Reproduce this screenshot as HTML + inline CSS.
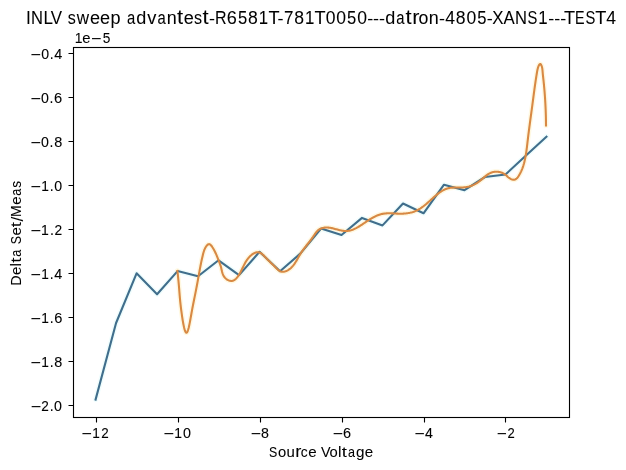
<!DOCTYPE html>
<html><head><meta charset="utf-8"><title>INLV sweep</title>
<style>
html,body{margin:0;padding:0;background:#ffffff;}
body{width:626px;height:470px;overflow:hidden;}
svg{display:block;}
text{font-family:"Liberation Sans",sans-serif;fill:#000000;}
</style></head><body>
<svg width="626" height="470" viewBox="0 0 626 470">
<rect x="0" y="0" width="626" height="470" fill="#ffffff"/>
<path d="M96.5 417.5V422.5M178.5 417.5V422.5M260.5 417.5V422.5M342.5 417.5V422.5M424.5 417.5V422.5M505.5 417.5V422.5M73.5 53.5H68.5M73.5 97.5H68.5M73.5 141.5H68.5M73.5 185.5H68.5M73.5 229.5H68.5M73.5 273.5H68.5M73.5 317.5H68.5M73.5 361.5H68.5M73.5 405.5H68.5" stroke="#000" stroke-width="1.11" fill="none"/>
<polyline points="95.58,399.60 116.07,323.00 136.57,273.30 157.06,294.30 177.56,271.10 198.05,276.30 218.55,260.30 239.05,275.10 259.54,251.80 280.04,271.20 300.53,253.40 321.03,228.60 341.53,235.00 362.02,217.90 382.52,225.40 403.01,203.50 423.51,213.30 444.01,184.70 464.50,190.20 485.00,177.00 505.49,174.50 525.99,155.50 546.48,136.60" fill="none" stroke="#effdfd" stroke-width="5" stroke-linejoin="round" stroke-linecap="round"/>
<path d="M177.40 270.80 L177.53 271.91 L177.65 272.99 L177.77 274.04 L177.88 275.06 L177.98 276.06 L178.08 277.02 L178.18 277.97 L178.27 278.89 L178.36 279.78 L178.44 280.65 L178.52 281.51 L178.60 282.34 L178.67 283.16 L178.74 283.95 L178.81 284.74 L178.88 285.50 L178.94 286.25 L179.00 286.99 L179.06 287.72 L179.12 288.44 L179.18 289.15 L179.23 289.85 L179.29 290.54 L179.34 291.23 L179.39 291.91 L179.45 292.59 L179.50 293.27 L179.56 293.95 L179.61 294.62 L179.67 295.30 L179.72 295.97 L179.78 296.66 L179.84 297.34 L179.90 298.03 L179.96 298.73 L180.03 299.43 L180.10 300.15 L180.17 300.87 L180.24 301.61 L180.32 302.35 L180.40 303.11 L180.48 303.89 L180.57 304.68 L180.66 305.49 L180.75 306.31 L180.86 307.16 L180.96 308.02 L181.07 308.91 L181.19 309.82 L181.31 310.75 L181.44 311.71 L181.57 312.69 L181.71 313.70 L181.85 314.73 L182.00 315.78 L182.16 316.84 L182.32 317.91 L182.49 318.98 L182.66 320.05 L182.84 321.11 L183.02 322.16 L183.21 323.19 L183.40 324.19 L183.59 325.17 L183.78 326.10 L183.98 327.00 L184.18 327.86 L184.39 328.66 L184.59 329.41 L184.80 330.09 L185.01 330.71 L185.22 331.26 L185.44 331.73 L185.65 332.11 L185.86 332.41 L186.08 332.62 L186.29 332.73 L186.51 332.74 L186.72 332.64 L186.94 332.44 L187.15 332.15 L187.36 331.78 L187.58 331.32 L187.79 330.78 L188.00 330.18 L188.21 329.50 L188.42 328.77 L188.63 327.98 L188.83 327.14 L189.04 326.25 L189.24 325.32 L189.44 324.36 L189.64 323.37 L189.84 322.35 L190.04 321.32 L190.23 320.27 L190.42 319.21 L190.61 318.16 L190.80 317.10 L190.99 316.05 L191.17 315.01 L191.35 313.99 L191.52 312.99 L191.70 312.03 L191.87 311.08 L192.04 310.16 L192.20 309.27 L192.37 308.39 L192.53 307.54 L192.69 306.70 L192.85 305.89 L193.00 305.08 L193.16 304.30 L193.31 303.52 L193.47 302.76 L193.62 302.00 L193.77 301.26 L193.92 300.52 L194.07 299.78 L194.22 299.05 L194.36 298.32 L194.51 297.59 L194.66 296.87 L194.81 296.13 L194.96 295.40 L195.11 294.66 L195.26 293.91 L195.41 293.16 L195.56 292.40 L195.71 291.62 L195.87 290.84 L196.02 290.04 L196.18 289.24 L196.33 288.43 L196.49 287.61 L196.65 286.79 L196.80 285.97 L196.96 285.14 L197.11 284.31 L197.27 283.49 L197.42 282.66 L197.57 281.83 L197.72 281.01 L197.87 280.19 L198.01 279.37 L198.16 278.56 L198.31 277.74 L198.45 276.93 L198.60 276.12 L198.74 275.32 L198.88 274.51 L199.03 273.71 L199.17 272.91 L199.32 272.11 L199.46 271.31 L199.61 270.52 L199.75 269.73 L199.90 268.93 L200.05 268.14 L200.20 267.36 L200.35 266.57 L200.50 265.78 L200.66 265.00 L200.81 264.21 L200.97 263.43 L201.13 262.65 L201.29 261.87 L201.46 261.09 L201.63 260.31 L201.80 259.53 L201.97 258.75 L202.15 257.97 L202.33 257.20 L202.51 256.42 L202.70 255.65 L202.89 254.87 L203.08 254.09 L203.28 253.32 L203.50 252.54 L203.72 251.76 L203.97 250.98 L204.25 250.20 L204.57 249.41 L204.93 248.62 L205.33 247.82 L205.79 247.02 L206.30 246.23 L206.85 245.51 L207.43 244.90 L208.03 244.43 L208.64 244.17 L209.24 244.14 L209.84 244.35 L210.42 244.75 L210.99 245.30 L211.54 245.97 L212.07 246.71 L212.58 247.48 L213.06 248.25 L213.51 249.01 L213.94 249.76 L214.34 250.51 L214.73 251.25 L215.10 251.99 L215.45 252.72 L215.79 253.45 L216.11 254.18 L216.43 254.91 L216.73 255.63 L217.03 256.36 L217.33 257.09 L217.62 257.82 L217.91 258.56 L218.19 259.29 L218.49 260.04 L218.78 260.79 L219.08 261.54 L219.38 262.30 L219.67 263.07 L219.96 263.85 L220.23 264.63 L220.49 265.42 L220.74 266.21 L220.96 267.01 L221.17 267.82 L221.36 268.64 L221.54 269.45 L221.72 270.26 L221.91 271.07 L222.11 271.86 L222.33 272.65 L222.57 273.43 L222.84 274.18 L223.14 274.92 L223.49 275.64 L223.89 276.33 L224.34 277.00 L224.86 277.63 L225.44 278.23 L226.07 278.79 L226.75 279.30 L227.47 279.75 L228.21 280.14 L228.98 280.46 L229.75 280.70 L230.52 280.85 L231.28 280.92 L232.03 280.88 L232.75 280.74 L233.45 280.49 L234.12 280.16 L234.76 279.75 L235.37 279.26 L235.97 278.72 L236.54 278.12 L237.08 277.47 L237.61 276.80 L238.11 276.09 L238.59 275.38 L239.05 274.65 L239.49 273.93 L239.91 273.19 L240.32 272.46 L240.72 271.72 L241.10 270.99 L241.48 270.25 L241.85 269.51 L242.21 268.78 L242.56 268.04 L242.92 267.31 L243.27 266.58 L243.62 265.86 L243.98 265.14 L244.34 264.43 L244.71 263.72 L245.09 263.02 L245.47 262.33 L245.87 261.65 L246.28 260.98 L246.71 260.32 L247.16 259.67 L247.62 259.03 L248.11 258.40 L248.61 257.79 L249.15 257.19 L249.70 256.60 L250.29 256.04 L250.91 255.48 L251.56 254.95 L252.24 254.43 L252.94 253.95 L253.67 253.51 L254.41 253.11 L255.17 252.78 L255.92 252.51 L256.68 252.33 L257.43 252.23 L258.17 252.24 L258.90 252.35 L259.60 252.56 L260.30 252.86 L260.98 253.24 L261.64 253.69 L262.29 254.19 L262.93 254.74 L263.56 255.33 L264.17 255.95 L264.77 256.59 L265.37 257.23 L265.95 257.87 L266.53 258.49 L267.10 259.09 L267.66 259.68 L268.22 260.24 L268.77 260.79 L269.32 261.33 L269.87 261.86 L270.42 262.39 L270.97 262.91 L271.52 263.44 L272.08 263.97 L272.64 264.51 L273.21 265.06 L273.78 265.62 L274.36 266.20 L274.96 266.80 L275.56 267.42 L276.18 268.06 L276.81 268.69 L277.46 269.31 L278.12 269.88 L278.79 270.41 L279.49 270.87 L280.20 271.24 L280.93 271.51 L281.67 271.69 L282.43 271.77 L283.19 271.77 L283.96 271.68 L284.73 271.53 L285.49 271.30 L286.25 271.02 L286.99 270.69 L287.71 270.30 L288.42 269.88 L289.10 269.43 L289.75 268.95 L290.37 268.44 L290.97 267.91 L291.55 267.35 L292.11 266.77 L292.64 266.17 L293.16 265.56 L293.66 264.93 L294.14 264.28 L294.61 263.61 L295.06 262.94 L295.51 262.25 L295.94 261.56 L296.37 260.86 L296.79 260.15 L297.20 259.43 L297.61 258.72 L298.02 258.00 L298.43 257.28 L298.84 256.56 L299.25 255.85 L299.66 255.14 L300.08 254.43 L300.51 253.74 L300.94 253.05 L301.38 252.37 L301.83 251.70 L302.29 251.03 L302.75 250.37 L303.21 249.72 L303.69 249.07 L304.17 248.43 L304.65 247.79 L305.13 247.16 L305.62 246.52 L306.11 245.89 L306.61 245.26 L307.10 244.63 L307.60 244.00 L308.10 243.37 L308.60 242.74 L309.09 242.10 L309.59 241.47 L310.08 240.82 L310.58 240.18 L311.07 239.53 L311.56 238.87 L312.04 238.21 L312.52 237.54 L313.00 236.87 L313.47 236.18 L313.93 235.49 L314.40 234.79 L314.87 234.10 L315.34 233.42 L315.83 232.75 L316.34 232.10 L316.86 231.48 L317.42 230.90 L318.00 230.36 L318.62 229.86 L319.28 229.42 L319.97 229.02 L320.69 228.68 L321.44 228.38 L322.20 228.12 L322.99 227.91 L323.79 227.75 L324.60 227.63 L325.41 227.54 L326.22 227.50 L327.04 227.49 L327.84 227.53 L328.64 227.59 L329.44 227.68 L330.24 227.81 L331.03 227.95 L331.82 228.11 L332.60 228.30 L333.39 228.49 L334.18 228.70 L334.96 228.91 L335.75 229.13 L336.54 229.34 L337.33 229.56 L338.12 229.77 L338.92 229.97 L339.72 230.16 L340.52 230.34 L341.33 230.49 L342.13 230.63 L342.94 230.75 L343.75 230.85 L344.55 230.92 L345.36 230.96 L346.17 230.97 L346.97 230.95 L347.77 230.89 L348.57 230.80 L349.36 230.66 L350.15 230.48 L350.94 230.27 L351.72 230.02 L352.49 229.74 L353.25 229.44 L354.01 229.11 L354.75 228.78 L355.48 228.42 L356.19 228.06 L356.90 227.68 L357.61 227.29 L358.30 226.90 L358.99 226.49 L359.67 226.07 L360.35 225.65 L361.02 225.22 L361.69 224.78 L362.35 224.34 L363.02 223.90 L363.68 223.45 L364.35 223.00 L365.01 222.55 L365.68 222.10 L366.35 221.64 L367.03 221.19 L367.71 220.74 L368.39 220.30 L369.08 219.86 L369.78 219.42 L370.48 218.99 L371.19 218.57 L371.91 218.15 L372.63 217.75 L373.36 217.35 L374.09 216.97 L374.83 216.60 L375.57 216.24 L376.32 215.90 L377.07 215.58 L377.82 215.27 L378.58 214.99 L379.35 214.72 L380.11 214.47 L380.88 214.25 L381.66 214.05 L382.43 213.87 L383.21 213.72 L383.99 213.60 L384.78 213.50 L385.57 213.42 L386.36 213.36 L387.15 213.32 L387.94 213.30 L388.74 213.29 L389.54 213.29 L390.34 213.31 L391.15 213.33 L391.95 213.37 L392.76 213.41 L393.57 213.45 L394.39 213.49 L395.20 213.54 L396.02 213.58 L396.83 213.62 L397.65 213.66 L398.47 213.69 L399.30 213.71 L400.12 213.71 L400.95 213.71 L401.77 213.70 L402.60 213.67 L403.42 213.63 L404.25 213.58 L405.07 213.51 L405.89 213.43 L406.70 213.33 L407.51 213.22 L408.32 213.09 L409.12 212.94 L409.92 212.78 L410.71 212.60 L411.49 212.40 L412.27 212.19 L413.03 211.95 L413.79 211.69 L414.54 211.42 L415.27 211.12 L416.00 210.81 L416.72 210.47 L417.43 210.12 L418.13 209.75 L418.82 209.36 L419.50 208.96 L420.18 208.54 L420.85 208.10 L421.51 207.66 L422.16 207.20 L422.81 206.72 L423.46 206.24 L424.10 205.75 L424.73 205.25 L425.36 204.73 L425.99 204.21 L426.61 203.69 L427.24 203.15 L427.85 202.61 L428.47 202.07 L429.09 201.52 L429.70 200.97 L430.31 200.42 L430.93 199.86 L431.54 199.31 L432.15 198.75 L432.77 198.20 L433.38 197.64 L434.00 197.09 L434.62 196.54 L435.24 196.00 L435.87 195.46 L436.50 194.93 L437.13 194.41 L437.77 193.90 L438.41 193.40 L439.06 192.91 L439.71 192.44 L440.37 191.98 L441.04 191.53 L441.71 191.11 L442.39 190.70 L443.07 190.32 L443.77 189.95 L444.47 189.61 L445.18 189.29 L445.90 189.00 L446.63 188.73 L447.37 188.50 L448.12 188.29 L448.89 188.11 L449.66 187.96 L450.44 187.84 L451.23 187.74 L452.03 187.66 L452.83 187.61 L453.65 187.57 L454.46 187.54 L455.28 187.52 L456.11 187.52 L456.94 187.52 L457.77 187.52 L458.60 187.52 L459.43 187.52 L460.27 187.52 L461.10 187.50 L461.93 187.48 L462.75 187.45 L463.57 187.40 L464.39 187.33 L465.20 187.25 L466.01 187.14 L466.81 187.00 L467.60 186.85 L468.38 186.66 L469.16 186.46 L469.93 186.23 L470.69 185.99 L471.45 185.72 L472.19 185.42 L472.93 185.11 L473.66 184.78 L474.39 184.42 L475.10 184.05 L475.80 183.66 L476.50 183.24 L477.19 182.81 L477.87 182.36 L478.54 181.89 L479.20 181.41 L479.85 180.91 L480.49 180.39 L481.13 179.86 L481.76 179.33 L482.39 178.79 L483.01 178.25 L483.64 177.71 L484.26 177.17 L484.89 176.64 L485.53 176.13 L486.16 175.63 L486.81 175.14 L487.46 174.68 L488.13 174.23 L488.80 173.82 L489.49 173.43 L490.19 173.08 L490.91 172.76 L491.64 172.48 L492.39 172.25 L493.16 172.05 L493.95 171.90 L494.75 171.79 L495.55 171.73 L496.36 171.71 L497.17 171.73 L497.99 171.79 L498.80 171.90 L499.60 172.05 L500.39 172.24 L501.17 172.48 L501.94 172.76 L502.69 173.08 L503.41 173.44 L504.11 173.84 L504.79 174.29 L505.43 174.78 L506.05 175.30 L506.66 175.84 L507.27 176.39 L507.88 176.94 L508.51 177.47 L509.17 177.97 L509.87 178.44 L510.61 178.86 L511.40 179.21 L512.22 179.48 L513.06 179.66 L513.88 179.71 L514.65 179.63 L515.36 179.39 L516.01 179.02 L516.62 178.54 L517.18 177.97 L517.70 177.34 L518.18 176.66 L518.65 175.95 L519.09 175.23 L519.51 174.51 L519.92 173.79 L520.31 173.06 L520.68 172.32 L521.04 171.59 L521.38 170.84 L521.70 170.10 L522.01 169.34 L522.31 168.59 L522.59 167.83 L522.86 167.07 L523.12 166.30 L523.37 165.53 L523.60 164.76 L523.82 163.99 L524.04 163.21 L524.24 162.43 L524.44 161.65 L524.63 160.87 L524.81 160.08 L524.98 159.30 L525.14 158.51 L525.30 157.72 L525.45 156.92 L525.60 156.13 L525.74 155.34 L525.87 154.54 L526.00 153.74 L526.13 152.94 L526.25 152.14 L526.36 151.34 L526.48 150.54 L526.59 149.74 L526.69 148.94 L526.79 148.13 L526.90 147.33 L526.99 146.52 L527.09 145.72 L527.19 144.91 L527.28 144.10 L527.37 143.30 L527.47 142.49 L527.56 141.69 L527.65 140.88 L527.75 140.07 L527.84 139.27 L527.94 138.46 L528.03 137.66 L528.13 136.85 L528.23 136.05 L528.33 135.24 L528.43 134.44 L528.53 133.63 L528.63 132.83 L528.73 132.03 L528.84 131.22 L528.94 130.42 L529.04 129.61 L529.15 128.81 L529.25 128.01 L529.36 127.21 L529.47 126.40 L529.57 125.60 L529.68 124.80 L529.79 123.99 L529.89 123.19 L530.00 122.39 L530.11 121.59 L530.22 120.78 L530.33 119.98 L530.44 119.18 L530.55 118.38 L530.65 117.58 L530.76 116.77 L530.87 115.97 L530.98 115.17 L531.09 114.37 L531.20 113.56 L531.31 112.76 L531.42 111.96 L531.53 111.16 L531.64 110.35 L531.74 109.55 L531.85 108.75 L531.96 107.95 L532.07 107.14 L532.18 106.34 L532.28 105.54 L532.39 104.74 L532.50 103.93 L532.60 103.13 L532.71 102.33 L532.81 101.52 L532.92 100.72 L533.02 99.92 L533.13 99.11 L533.23 98.31 L533.34 97.51 L533.45 96.70 L533.55 95.90 L533.66 95.10 L533.76 94.29 L533.87 93.49 L533.98 92.69 L534.09 91.89 L534.19 91.08 L534.30 90.28 L534.41 89.48 L534.52 88.67 L534.63 87.87 L534.74 87.07 L534.86 86.27 L534.97 85.47 L535.08 84.66 L535.20 83.86 L535.31 83.06 L535.43 82.26 L535.55 81.46 L535.67 80.66 L535.79 79.86 L535.91 79.06 L536.03 78.26 L536.16 77.46 L536.28 76.66 L536.41 75.86 L536.54 75.06 L536.67 74.26 L536.80 73.46 L536.93 72.67 L537.06 71.87 L537.20 71.07 L537.35 70.27 L537.52 69.47 L537.71 68.67 L537.94 67.85 L538.20 67.03 L538.52 66.20 L538.88 65.38 L539.29 64.65 L539.73 64.13 L540.18 63.96 L540.62 64.20 L541.04 64.75 L541.42 65.47 L541.72 66.25 L541.97 67.05 L542.16 67.87 L542.30 68.70 L542.41 69.55 L542.50 70.39 L542.57 71.24 L542.64 72.08 L542.71 72.91 L542.78 73.73 L542.86 74.55 L542.95 75.36 L543.03 76.17 L543.12 76.97 L543.21 77.77 L543.30 78.57 L543.38 79.37 L543.47 80.16 L543.56 80.96 L543.64 81.76 L543.73 82.56 L543.81 83.36 L543.89 84.16 L543.97 84.96 L544.04 85.76 L544.12 86.57 L544.19 87.37 L544.26 88.17 L544.34 88.98 L544.40 89.78 L544.47 90.59 L544.54 91.39 L544.60 92.20 L544.67 93.01 L544.73 93.82 L544.79 94.62 L544.85 95.43 L544.91 96.24 L544.96 97.05 L545.02 97.86 L545.07 98.67 L545.12 99.48 L545.17 100.29 L545.22 101.10 L545.27 101.91 L545.31 102.72 L545.36 103.53 L545.40 104.34 L545.44 105.15 L545.48 105.96 L545.52 106.78 L545.56 107.59 L545.59 108.40 L545.63 109.21 L545.66 110.02 L545.69 110.83 L545.72 111.64 L545.75 112.45 L545.77 113.27 L545.80 114.08 L545.82 114.89 L545.85 115.70 L545.87 116.51 L545.89 117.32 L545.90 118.13 L545.92 118.94 L545.94 119.75 L545.95 120.56 L545.96 121.36 L545.97 122.17 L545.98 122.98 L545.99 123.79 L546.00 124.59 L546.00 125.40" fill="none" stroke="#fff8e1" stroke-width="5" stroke-linejoin="round" stroke-linecap="round"/>
<polyline points="95.58,399.60 116.07,323.00 136.57,273.30 157.06,294.30 177.56,271.10 198.05,276.30 218.55,260.30 239.05,275.10 259.54,251.80 280.04,271.20 300.53,253.40 321.03,228.60 341.53,235.00 362.02,217.90 382.52,225.40 403.01,203.50 423.51,213.30 444.01,184.70 464.50,190.20 485.00,177.00 505.49,174.50 525.99,155.50 546.48,136.60" fill="none" stroke="#406e8c" stroke-width="2.083" stroke-linejoin="round" stroke-linecap="square"/>
<path d="M177.40 270.80 L177.53 271.91 L177.65 272.99 L177.77 274.04 L177.88 275.06 L177.98 276.06 L178.08 277.02 L178.18 277.97 L178.27 278.89 L178.36 279.78 L178.44 280.65 L178.52 281.51 L178.60 282.34 L178.67 283.16 L178.74 283.95 L178.81 284.74 L178.88 285.50 L178.94 286.25 L179.00 286.99 L179.06 287.72 L179.12 288.44 L179.18 289.15 L179.23 289.85 L179.29 290.54 L179.34 291.23 L179.39 291.91 L179.45 292.59 L179.50 293.27 L179.56 293.95 L179.61 294.62 L179.67 295.30 L179.72 295.97 L179.78 296.66 L179.84 297.34 L179.90 298.03 L179.96 298.73 L180.03 299.43 L180.10 300.15 L180.17 300.87 L180.24 301.61 L180.32 302.35 L180.40 303.11 L180.48 303.89 L180.57 304.68 L180.66 305.49 L180.75 306.31 L180.86 307.16 L180.96 308.02 L181.07 308.91 L181.19 309.82 L181.31 310.75 L181.44 311.71 L181.57 312.69 L181.71 313.70 L181.85 314.73 L182.00 315.78 L182.16 316.84 L182.32 317.91 L182.49 318.98 L182.66 320.05 L182.84 321.11 L183.02 322.16 L183.21 323.19 L183.40 324.19 L183.59 325.17 L183.78 326.10 L183.98 327.00 L184.18 327.86 L184.39 328.66 L184.59 329.41 L184.80 330.09 L185.01 330.71 L185.22 331.26 L185.44 331.73 L185.65 332.11 L185.86 332.41 L186.08 332.62 L186.29 332.73 L186.51 332.74 L186.72 332.64 L186.94 332.44 L187.15 332.15 L187.36 331.78 L187.58 331.32 L187.79 330.78 L188.00 330.18 L188.21 329.50 L188.42 328.77 L188.63 327.98 L188.83 327.14 L189.04 326.25 L189.24 325.32 L189.44 324.36 L189.64 323.37 L189.84 322.35 L190.04 321.32 L190.23 320.27 L190.42 319.21 L190.61 318.16 L190.80 317.10 L190.99 316.05 L191.17 315.01 L191.35 313.99 L191.52 312.99 L191.70 312.03 L191.87 311.08 L192.04 310.16 L192.20 309.27 L192.37 308.39 L192.53 307.54 L192.69 306.70 L192.85 305.89 L193.00 305.08 L193.16 304.30 L193.31 303.52 L193.47 302.76 L193.62 302.00 L193.77 301.26 L193.92 300.52 L194.07 299.78 L194.22 299.05 L194.36 298.32 L194.51 297.59 L194.66 296.87 L194.81 296.13 L194.96 295.40 L195.11 294.66 L195.26 293.91 L195.41 293.16 L195.56 292.40 L195.71 291.62 L195.87 290.84 L196.02 290.04 L196.18 289.24 L196.33 288.43 L196.49 287.61 L196.65 286.79 L196.80 285.97 L196.96 285.14 L197.11 284.31 L197.27 283.49 L197.42 282.66 L197.57 281.83 L197.72 281.01 L197.87 280.19 L198.01 279.37 L198.16 278.56 L198.31 277.74 L198.45 276.93 L198.60 276.12 L198.74 275.32 L198.88 274.51 L199.03 273.71 L199.17 272.91 L199.32 272.11 L199.46 271.31 L199.61 270.52 L199.75 269.73 L199.90 268.93 L200.05 268.14 L200.20 267.36 L200.35 266.57 L200.50 265.78 L200.66 265.00 L200.81 264.21 L200.97 263.43 L201.13 262.65 L201.29 261.87 L201.46 261.09 L201.63 260.31 L201.80 259.53 L201.97 258.75 L202.15 257.97 L202.33 257.20 L202.51 256.42 L202.70 255.65 L202.89 254.87 L203.08 254.09 L203.28 253.32 L203.50 252.54 L203.72 251.76 L203.97 250.98 L204.25 250.20 L204.57 249.41 L204.93 248.62 L205.33 247.82 L205.79 247.02 L206.30 246.23 L206.85 245.51 L207.43 244.90 L208.03 244.43 L208.64 244.17 L209.24 244.14 L209.84 244.35 L210.42 244.75 L210.99 245.30 L211.54 245.97 L212.07 246.71 L212.58 247.48 L213.06 248.25 L213.51 249.01 L213.94 249.76 L214.34 250.51 L214.73 251.25 L215.10 251.99 L215.45 252.72 L215.79 253.45 L216.11 254.18 L216.43 254.91 L216.73 255.63 L217.03 256.36 L217.33 257.09 L217.62 257.82 L217.91 258.56 L218.19 259.29 L218.49 260.04 L218.78 260.79 L219.08 261.54 L219.38 262.30 L219.67 263.07 L219.96 263.85 L220.23 264.63 L220.49 265.42 L220.74 266.21 L220.96 267.01 L221.17 267.82 L221.36 268.64 L221.54 269.45 L221.72 270.26 L221.91 271.07 L222.11 271.86 L222.33 272.65 L222.57 273.43 L222.84 274.18 L223.14 274.92 L223.49 275.64 L223.89 276.33 L224.34 277.00 L224.86 277.63 L225.44 278.23 L226.07 278.79 L226.75 279.30 L227.47 279.75 L228.21 280.14 L228.98 280.46 L229.75 280.70 L230.52 280.85 L231.28 280.92 L232.03 280.88 L232.75 280.74 L233.45 280.49 L234.12 280.16 L234.76 279.75 L235.37 279.26 L235.97 278.72 L236.54 278.12 L237.08 277.47 L237.61 276.80 L238.11 276.09 L238.59 275.38 L239.05 274.65 L239.49 273.93 L239.91 273.19 L240.32 272.46 L240.72 271.72 L241.10 270.99 L241.48 270.25 L241.85 269.51 L242.21 268.78 L242.56 268.04 L242.92 267.31 L243.27 266.58 L243.62 265.86 L243.98 265.14 L244.34 264.43 L244.71 263.72 L245.09 263.02 L245.47 262.33 L245.87 261.65 L246.28 260.98 L246.71 260.32 L247.16 259.67 L247.62 259.03 L248.11 258.40 L248.61 257.79 L249.15 257.19 L249.70 256.60 L250.29 256.04 L250.91 255.48 L251.56 254.95 L252.24 254.43 L252.94 253.95 L253.67 253.51 L254.41 253.11 L255.17 252.78 L255.92 252.51 L256.68 252.33 L257.43 252.23 L258.17 252.24 L258.90 252.35 L259.60 252.56 L260.30 252.86 L260.98 253.24 L261.64 253.69 L262.29 254.19 L262.93 254.74 L263.56 255.33 L264.17 255.95 L264.77 256.59 L265.37 257.23 L265.95 257.87 L266.53 258.49 L267.10 259.09 L267.66 259.68 L268.22 260.24 L268.77 260.79 L269.32 261.33 L269.87 261.86 L270.42 262.39 L270.97 262.91 L271.52 263.44 L272.08 263.97 L272.64 264.51 L273.21 265.06 L273.78 265.62 L274.36 266.20 L274.96 266.80 L275.56 267.42 L276.18 268.06 L276.81 268.69 L277.46 269.31 L278.12 269.88 L278.79 270.41 L279.49 270.87 L280.20 271.24 L280.93 271.51 L281.67 271.69 L282.43 271.77 L283.19 271.77 L283.96 271.68 L284.73 271.53 L285.49 271.30 L286.25 271.02 L286.99 270.69 L287.71 270.30 L288.42 269.88 L289.10 269.43 L289.75 268.95 L290.37 268.44 L290.97 267.91 L291.55 267.35 L292.11 266.77 L292.64 266.17 L293.16 265.56 L293.66 264.93 L294.14 264.28 L294.61 263.61 L295.06 262.94 L295.51 262.25 L295.94 261.56 L296.37 260.86 L296.79 260.15 L297.20 259.43 L297.61 258.72 L298.02 258.00 L298.43 257.28 L298.84 256.56 L299.25 255.85 L299.66 255.14 L300.08 254.43 L300.51 253.74 L300.94 253.05 L301.38 252.37 L301.83 251.70 L302.29 251.03 L302.75 250.37 L303.21 249.72 L303.69 249.07 L304.17 248.43 L304.65 247.79 L305.13 247.16 L305.62 246.52 L306.11 245.89 L306.61 245.26 L307.10 244.63 L307.60 244.00 L308.10 243.37 L308.60 242.74 L309.09 242.10 L309.59 241.47 L310.08 240.82 L310.58 240.18 L311.07 239.53 L311.56 238.87 L312.04 238.21 L312.52 237.54 L313.00 236.87 L313.47 236.18 L313.93 235.49 L314.40 234.79 L314.87 234.10 L315.34 233.42 L315.83 232.75 L316.34 232.10 L316.86 231.48 L317.42 230.90 L318.00 230.36 L318.62 229.86 L319.28 229.42 L319.97 229.02 L320.69 228.68 L321.44 228.38 L322.20 228.12 L322.99 227.91 L323.79 227.75 L324.60 227.63 L325.41 227.54 L326.22 227.50 L327.04 227.49 L327.84 227.53 L328.64 227.59 L329.44 227.68 L330.24 227.81 L331.03 227.95 L331.82 228.11 L332.60 228.30 L333.39 228.49 L334.18 228.70 L334.96 228.91 L335.75 229.13 L336.54 229.34 L337.33 229.56 L338.12 229.77 L338.92 229.97 L339.72 230.16 L340.52 230.34 L341.33 230.49 L342.13 230.63 L342.94 230.75 L343.75 230.85 L344.55 230.92 L345.36 230.96 L346.17 230.97 L346.97 230.95 L347.77 230.89 L348.57 230.80 L349.36 230.66 L350.15 230.48 L350.94 230.27 L351.72 230.02 L352.49 229.74 L353.25 229.44 L354.01 229.11 L354.75 228.78 L355.48 228.42 L356.19 228.06 L356.90 227.68 L357.61 227.29 L358.30 226.90 L358.99 226.49 L359.67 226.07 L360.35 225.65 L361.02 225.22 L361.69 224.78 L362.35 224.34 L363.02 223.90 L363.68 223.45 L364.35 223.00 L365.01 222.55 L365.68 222.10 L366.35 221.64 L367.03 221.19 L367.71 220.74 L368.39 220.30 L369.08 219.86 L369.78 219.42 L370.48 218.99 L371.19 218.57 L371.91 218.15 L372.63 217.75 L373.36 217.35 L374.09 216.97 L374.83 216.60 L375.57 216.24 L376.32 215.90 L377.07 215.58 L377.82 215.27 L378.58 214.99 L379.35 214.72 L380.11 214.47 L380.88 214.25 L381.66 214.05 L382.43 213.87 L383.21 213.72 L383.99 213.60 L384.78 213.50 L385.57 213.42 L386.36 213.36 L387.15 213.32 L387.94 213.30 L388.74 213.29 L389.54 213.29 L390.34 213.31 L391.15 213.33 L391.95 213.37 L392.76 213.41 L393.57 213.45 L394.39 213.49 L395.20 213.54 L396.02 213.58 L396.83 213.62 L397.65 213.66 L398.47 213.69 L399.30 213.71 L400.12 213.71 L400.95 213.71 L401.77 213.70 L402.60 213.67 L403.42 213.63 L404.25 213.58 L405.07 213.51 L405.89 213.43 L406.70 213.33 L407.51 213.22 L408.32 213.09 L409.12 212.94 L409.92 212.78 L410.71 212.60 L411.49 212.40 L412.27 212.19 L413.03 211.95 L413.79 211.69 L414.54 211.42 L415.27 211.12 L416.00 210.81 L416.72 210.47 L417.43 210.12 L418.13 209.75 L418.82 209.36 L419.50 208.96 L420.18 208.54 L420.85 208.10 L421.51 207.66 L422.16 207.20 L422.81 206.72 L423.46 206.24 L424.10 205.75 L424.73 205.25 L425.36 204.73 L425.99 204.21 L426.61 203.69 L427.24 203.15 L427.85 202.61 L428.47 202.07 L429.09 201.52 L429.70 200.97 L430.31 200.42 L430.93 199.86 L431.54 199.31 L432.15 198.75 L432.77 198.20 L433.38 197.64 L434.00 197.09 L434.62 196.54 L435.24 196.00 L435.87 195.46 L436.50 194.93 L437.13 194.41 L437.77 193.90 L438.41 193.40 L439.06 192.91 L439.71 192.44 L440.37 191.98 L441.04 191.53 L441.71 191.11 L442.39 190.70 L443.07 190.32 L443.77 189.95 L444.47 189.61 L445.18 189.29 L445.90 189.00 L446.63 188.73 L447.37 188.50 L448.12 188.29 L448.89 188.11 L449.66 187.96 L450.44 187.84 L451.23 187.74 L452.03 187.66 L452.83 187.61 L453.65 187.57 L454.46 187.54 L455.28 187.52 L456.11 187.52 L456.94 187.52 L457.77 187.52 L458.60 187.52 L459.43 187.52 L460.27 187.52 L461.10 187.50 L461.93 187.48 L462.75 187.45 L463.57 187.40 L464.39 187.33 L465.20 187.25 L466.01 187.14 L466.81 187.00 L467.60 186.85 L468.38 186.66 L469.16 186.46 L469.93 186.23 L470.69 185.99 L471.45 185.72 L472.19 185.42 L472.93 185.11 L473.66 184.78 L474.39 184.42 L475.10 184.05 L475.80 183.66 L476.50 183.24 L477.19 182.81 L477.87 182.36 L478.54 181.89 L479.20 181.41 L479.85 180.91 L480.49 180.39 L481.13 179.86 L481.76 179.33 L482.39 178.79 L483.01 178.25 L483.64 177.71 L484.26 177.17 L484.89 176.64 L485.53 176.13 L486.16 175.63 L486.81 175.14 L487.46 174.68 L488.13 174.23 L488.80 173.82 L489.49 173.43 L490.19 173.08 L490.91 172.76 L491.64 172.48 L492.39 172.25 L493.16 172.05 L493.95 171.90 L494.75 171.79 L495.55 171.73 L496.36 171.71 L497.17 171.73 L497.99 171.79 L498.80 171.90 L499.60 172.05 L500.39 172.24 L501.17 172.48 L501.94 172.76 L502.69 173.08 L503.41 173.44 L504.11 173.84 L504.79 174.29 L505.43 174.78 L506.05 175.30 L506.66 175.84 L507.27 176.39 L507.88 176.94 L508.51 177.47 L509.17 177.97 L509.87 178.44 L510.61 178.86 L511.40 179.21 L512.22 179.48 L513.06 179.66 L513.88 179.71 L514.65 179.63 L515.36 179.39 L516.01 179.02 L516.62 178.54 L517.18 177.97 L517.70 177.34 L518.18 176.66 L518.65 175.95 L519.09 175.23 L519.51 174.51 L519.92 173.79 L520.31 173.06 L520.68 172.32 L521.04 171.59 L521.38 170.84 L521.70 170.10 L522.01 169.34 L522.31 168.59 L522.59 167.83 L522.86 167.07 L523.12 166.30 L523.37 165.53 L523.60 164.76 L523.82 163.99 L524.04 163.21 L524.24 162.43 L524.44 161.65 L524.63 160.87 L524.81 160.08 L524.98 159.30 L525.14 158.51 L525.30 157.72 L525.45 156.92 L525.60 156.13 L525.74 155.34 L525.87 154.54 L526.00 153.74 L526.13 152.94 L526.25 152.14 L526.36 151.34 L526.48 150.54 L526.59 149.74 L526.69 148.94 L526.79 148.13 L526.90 147.33 L526.99 146.52 L527.09 145.72 L527.19 144.91 L527.28 144.10 L527.37 143.30 L527.47 142.49 L527.56 141.69 L527.65 140.88 L527.75 140.07 L527.84 139.27 L527.94 138.46 L528.03 137.66 L528.13 136.85 L528.23 136.05 L528.33 135.24 L528.43 134.44 L528.53 133.63 L528.63 132.83 L528.73 132.03 L528.84 131.22 L528.94 130.42 L529.04 129.61 L529.15 128.81 L529.25 128.01 L529.36 127.21 L529.47 126.40 L529.57 125.60 L529.68 124.80 L529.79 123.99 L529.89 123.19 L530.00 122.39 L530.11 121.59 L530.22 120.78 L530.33 119.98 L530.44 119.18 L530.55 118.38 L530.65 117.58 L530.76 116.77 L530.87 115.97 L530.98 115.17 L531.09 114.37 L531.20 113.56 L531.31 112.76 L531.42 111.96 L531.53 111.16 L531.64 110.35 L531.74 109.55 L531.85 108.75 L531.96 107.95 L532.07 107.14 L532.18 106.34 L532.28 105.54 L532.39 104.74 L532.50 103.93 L532.60 103.13 L532.71 102.33 L532.81 101.52 L532.92 100.72 L533.02 99.92 L533.13 99.11 L533.23 98.31 L533.34 97.51 L533.45 96.70 L533.55 95.90 L533.66 95.10 L533.76 94.29 L533.87 93.49 L533.98 92.69 L534.09 91.89 L534.19 91.08 L534.30 90.28 L534.41 89.48 L534.52 88.67 L534.63 87.87 L534.74 87.07 L534.86 86.27 L534.97 85.47 L535.08 84.66 L535.20 83.86 L535.31 83.06 L535.43 82.26 L535.55 81.46 L535.67 80.66 L535.79 79.86 L535.91 79.06 L536.03 78.26 L536.16 77.46 L536.28 76.66 L536.41 75.86 L536.54 75.06 L536.67 74.26 L536.80 73.46 L536.93 72.67 L537.06 71.87 L537.20 71.07 L537.35 70.27 L537.52 69.47 L537.71 68.67 L537.94 67.85 L538.20 67.03 L538.52 66.20 L538.88 65.38 L539.29 64.65 L539.73 64.13 L540.18 63.96 L540.62 64.20 L541.04 64.75 L541.42 65.47 L541.72 66.25 L541.97 67.05 L542.16 67.87 L542.30 68.70 L542.41 69.55 L542.50 70.39 L542.57 71.24 L542.64 72.08 L542.71 72.91 L542.78 73.73 L542.86 74.55 L542.95 75.36 L543.03 76.17 L543.12 76.97 L543.21 77.77 L543.30 78.57 L543.38 79.37 L543.47 80.16 L543.56 80.96 L543.64 81.76 L543.73 82.56 L543.81 83.36 L543.89 84.16 L543.97 84.96 L544.04 85.76 L544.12 86.57 L544.19 87.37 L544.26 88.17 L544.34 88.98 L544.40 89.78 L544.47 90.59 L544.54 91.39 L544.60 92.20 L544.67 93.01 L544.73 93.82 L544.79 94.62 L544.85 95.43 L544.91 96.24 L544.96 97.05 L545.02 97.86 L545.07 98.67 L545.12 99.48 L545.17 100.29 L545.22 101.10 L545.27 101.91 L545.31 102.72 L545.36 103.53 L545.40 104.34 L545.44 105.15 L545.48 105.96 L545.52 106.78 L545.56 107.59 L545.59 108.40 L545.63 109.21 L545.66 110.02 L545.69 110.83 L545.72 111.64 L545.75 112.45 L545.77 113.27 L545.80 114.08 L545.82 114.89 L545.85 115.70 L545.87 116.51 L545.89 117.32 L545.90 118.13 L545.92 118.94 L545.94 119.75 L545.95 120.56 L545.96 121.36 L545.97 122.17 L545.98 122.98 L545.99 123.79 L546.00 124.59 L546.00 125.40" fill="none" stroke="#d88944" stroke-width="2.083" stroke-linejoin="round" stroke-linecap="square"/>
<rect x="73.5" y="47.5" width="496" height="370" fill="none" stroke="#000" stroke-width="1.11"/>
<g style="will-change:transform">
<text y="24" font-size="16.667" stroke="#000" stroke-width="0.06"><tspan x="25.90" font-size="18.53" textLength="4.85" lengthAdjust="spacingAndGlyphs">I</tspan><tspan x="31.12" font-size="18.53" textLength="11.97" lengthAdjust="spacingAndGlyphs">N</tspan><tspan x="43.56" font-size="18.53" textLength="9.47" lengthAdjust="spacingAndGlyphs">L</tspan><tspan x="50.77" font-size="18.53" textLength="11.28" lengthAdjust="spacingAndGlyphs">V</tspan> <tspan x="67.73" font-size="18.17" textLength="8.03" lengthAdjust="spacingAndGlyphs">s</tspan><tspan x="76.74" font-size="18.45" textLength="12.32" lengthAdjust="spacingAndGlyphs">w</tspan><tspan x="89.99" font-size="18.12" textLength="10.08" lengthAdjust="spacingAndGlyphs">e</tspan><tspan x="100.06" font-size="18.12" textLength="10.08" lengthAdjust="spacingAndGlyphs">e</tspan><tspan x="110.62" font-size="18.14" textLength="10.06" lengthAdjust="spacingAndGlyphs">p</tspan> <tspan x="126.98" font-size="18.12" textLength="8.26" lengthAdjust="spacingAndGlyphs">a</tspan><tspan x="136.33" font-size="18.98" textLength="10.06" lengthAdjust="spacingAndGlyphs">d</tspan><tspan x="147.23" font-size="18.45" textLength="9.13" lengthAdjust="spacingAndGlyphs">v</tspan><tspan x="157.42" font-size="18.12" textLength="8.26" lengthAdjust="spacingAndGlyphs">a</tspan><tspan x="166.84" font-size="18.12" textLength="9.99" lengthAdjust="spacingAndGlyphs">n</tspan><tspan x="177.07" font-size="19.72" textLength="6.13" lengthAdjust="spacingAndGlyphs">t</tspan><tspan x="183.69" font-size="18.12" textLength="10.08" lengthAdjust="spacingAndGlyphs">e</tspan><tspan x="194.11" font-size="18.17" textLength="8.03" lengthAdjust="spacingAndGlyphs">s</tspan><tspan x="202.60" font-size="19.72" textLength="6.13" lengthAdjust="spacingAndGlyphs">t</tspan><tspan x="209.13" font-size="16.67" textLength="5.97" lengthAdjust="spacingAndGlyphs">-</tspan><tspan x="214.96" font-size="18.53" textLength="11.57" lengthAdjust="spacingAndGlyphs">R</tspan><tspan x="226.75" font-size="18.26" textLength="10.10" lengthAdjust="spacingAndGlyphs">6</tspan><tspan x="237.97" font-size="18.53" textLength="9.25" lengthAdjust="spacingAndGlyphs">5</tspan><tspan x="248.02" font-size="18.26" textLength="9.79" lengthAdjust="spacingAndGlyphs">8</tspan><tspan x="258.77" font-size="18.53" textLength="9.36" lengthAdjust="spacingAndGlyphs">1</tspan><tspan x="268.48" font-size="18.53" textLength="11.08" lengthAdjust="spacingAndGlyphs">T</tspan><tspan x="277.45" font-size="16.67" textLength="5.97" lengthAdjust="spacingAndGlyphs">-</tspan><tspan x="284.02" font-size="18.53" textLength="9.49" lengthAdjust="spacingAndGlyphs">7</tspan><tspan x="294.30" font-size="18.26" textLength="9.79" lengthAdjust="spacingAndGlyphs">8</tspan><tspan x="304.99" font-size="18.53" textLength="9.36" lengthAdjust="spacingAndGlyphs">1</tspan><tspan x="314.58" font-size="18.53" textLength="11.08" lengthAdjust="spacingAndGlyphs">T</tspan><tspan x="325.67" font-size="18.26" textLength="9.75" lengthAdjust="spacingAndGlyphs">0</tspan><tspan x="336.15" font-size="18.26" textLength="9.75" lengthAdjust="spacingAndGlyphs">0</tspan><tspan x="347.09" font-size="18.53" textLength="9.25" lengthAdjust="spacingAndGlyphs">5</tspan><tspan x="357.14" font-size="18.26" textLength="9.75" lengthAdjust="spacingAndGlyphs">0</tspan><tspan x="367.29" font-size="16.67" textLength="5.97" lengthAdjust="spacingAndGlyphs">-</tspan><tspan x="373.06" font-size="16.67" textLength="5.97" lengthAdjust="spacingAndGlyphs">-</tspan><tspan x="379.01" font-size="16.67" textLength="5.97" lengthAdjust="spacingAndGlyphs">-</tspan><tspan x="385.13" font-size="18.98" textLength="10.06" lengthAdjust="spacingAndGlyphs">d</tspan><tspan x="396.15" font-size="18.12" textLength="8.26" lengthAdjust="spacingAndGlyphs">a</tspan><tspan x="405.44" font-size="19.72" textLength="6.13" lengthAdjust="spacingAndGlyphs">t</tspan><tspan x="412.18" font-size="19.98" textLength="7.17" lengthAdjust="spacingAndGlyphs">r</tspan><tspan x="418.61" font-size="18.12" textLength="9.87" lengthAdjust="spacingAndGlyphs">o</tspan><tspan x="428.76" font-size="18.12" textLength="9.99" lengthAdjust="spacingAndGlyphs">n</tspan><tspan x="439.01" font-size="16.67" textLength="5.97" lengthAdjust="spacingAndGlyphs">-</tspan><tspan x="445.16" font-size="18.53" textLength="9.80" lengthAdjust="spacingAndGlyphs">4</tspan><tspan x="455.79" font-size="18.26" textLength="9.79" lengthAdjust="spacingAndGlyphs">8</tspan><tspan x="466.49" font-size="18.26" textLength="9.75" lengthAdjust="spacingAndGlyphs">0</tspan><tspan x="477.26" font-size="18.53" textLength="9.25" lengthAdjust="spacingAndGlyphs">5</tspan><tspan x="486.86" font-size="16.67" textLength="5.97" lengthAdjust="spacingAndGlyphs">-</tspan><tspan x="492.16" font-size="18.53" textLength="11.24" lengthAdjust="spacingAndGlyphs">X</tspan><tspan x="503.43" font-size="18.53" textLength="11.20" lengthAdjust="spacingAndGlyphs">A</tspan><tspan x="515.00" font-size="18.53" textLength="11.97" lengthAdjust="spacingAndGlyphs">N</tspan><tspan x="527.58" font-size="18.26" textLength="9.86" lengthAdjust="spacingAndGlyphs">S</tspan><tspan x="538.31" font-size="18.53" textLength="9.36" lengthAdjust="spacingAndGlyphs">1</tspan><tspan x="548.28" font-size="16.67" textLength="5.97" lengthAdjust="spacingAndGlyphs">-</tspan><tspan x="554.26" font-size="16.67" textLength="5.97" lengthAdjust="spacingAndGlyphs">-</tspan><tspan x="560.16" font-size="16.67" textLength="5.97" lengthAdjust="spacingAndGlyphs">-</tspan><tspan x="564.07" font-size="18.53" textLength="11.08" lengthAdjust="spacingAndGlyphs">T</tspan><tspan x="575.05" font-size="18.53" textLength="9.55" lengthAdjust="spacingAndGlyphs">E</tspan><tspan x="585.46" font-size="18.26" textLength="9.86" lengthAdjust="spacingAndGlyphs">S</tspan><tspan x="595.19" font-size="18.53" textLength="11.08" lengthAdjust="spacingAndGlyphs">T</tspan><tspan x="606.14" font-size="18.53" textLength="9.80" lengthAdjust="spacingAndGlyphs">4</tspan></text>
<text y="457" font-size="13.889" stroke="#000" stroke-width="0.06"><tspan x="269.08" font-size="13.96" textLength="8.23" lengthAdjust="spacingAndGlyphs">S</tspan><tspan x="277.97" font-size="14.40" textLength="8.22" lengthAdjust="spacingAndGlyphs">o</tspan><tspan x="286.49" font-size="14.67" textLength="8.32" lengthAdjust="spacingAndGlyphs">u</tspan><tspan x="295.17" font-size="16.26" textLength="6.14" lengthAdjust="spacingAndGlyphs">r</tspan><tspan x="300.73" font-size="14.40" textLength="6.93" lengthAdjust="spacingAndGlyphs">c</tspan><tspan x="308.36" font-size="14.40" textLength="8.42" lengthAdjust="spacingAndGlyphs">e</tspan> <tspan x="320.94" font-size="14.17" textLength="9.59" lengthAdjust="spacingAndGlyphs">V</tspan><tspan x="329.58" font-size="14.40" textLength="8.22" lengthAdjust="spacingAndGlyphs">o</tspan><tspan x="338.05" font-size="14.84" textLength="3.46" lengthAdjust="spacingAndGlyphs">l</tspan><tspan x="341.74" font-size="15.08" textLength="5.15" lengthAdjust="spacingAndGlyphs">t</tspan><tspan x="348.06" font-size="14.40" textLength="7.01" lengthAdjust="spacingAndGlyphs">a</tspan><tspan x="356.10" font-size="14.44" textLength="8.47" lengthAdjust="spacingAndGlyphs">g</tspan><tspan x="364.88" font-size="14.40" textLength="8.42" lengthAdjust="spacingAndGlyphs">e</tspan></text>
<text y="0" transform="translate(21.00,0) rotate(-90)" font-size="13.889" stroke="#000" stroke-width="0.06"><tspan x="-285.80" font-size="14.17" textLength="10.38" lengthAdjust="spacingAndGlyphs">D</tspan><tspan x="-275.00" font-size="14.40" textLength="8.46" lengthAdjust="spacingAndGlyphs">e</tspan><tspan x="-266.59" font-size="14.84" textLength="3.48" lengthAdjust="spacingAndGlyphs">l</tspan><tspan x="-262.88" font-size="15.08" textLength="5.18" lengthAdjust="spacingAndGlyphs">t</tspan><tspan x="-256.65" font-size="14.40" textLength="7.05" lengthAdjust="spacingAndGlyphs">a</tspan> <tspan x="-244.31" font-size="13.96" textLength="8.27" lengthAdjust="spacingAndGlyphs">S</tspan><tspan x="-235.45" font-size="14.40" textLength="8.46" lengthAdjust="spacingAndGlyphs">e</tspan><tspan x="-227.19" font-size="15.08" textLength="5.18" lengthAdjust="spacingAndGlyphs">t</tspan><tspan x="-221.61" y="1.69" font-size="16.00" textLength="4.76" lengthAdjust="spacingAndGlyphs">/</tspan><tspan x="-217.00" y="0.00" font-size="14.17" textLength="11.54" lengthAdjust="spacingAndGlyphs">M</tspan><tspan x="-204.86" font-size="14.40" textLength="8.46" lengthAdjust="spacingAndGlyphs">e</tspan><tspan x="-195.79" font-size="14.40" textLength="7.05" lengthAdjust="spacingAndGlyphs">a</tspan><tspan x="-187.76" font-size="14.44" textLength="6.75" lengthAdjust="spacingAndGlyphs">s</tspan></text>
<text y="43" font-size="13.889" stroke="#000" stroke-width="0.06"><tspan x="74.66" font-size="14.17" textLength="7.74" lengthAdjust="spacingAndGlyphs">1</tspan><tspan x="82.27" font-size="14.40" textLength="8.27" lengthAdjust="spacingAndGlyphs">e</tspan><tspan x="90.92" y="43.94" font-size="16.11" textLength="10.45" lengthAdjust="spacingAndGlyphs">−</tspan><tspan x="102.64" y="43.00" font-size="14.17" textLength="7.61" lengthAdjust="spacingAndGlyphs">5</tspan></text>
<text y="438" font-size="13.889" stroke="#000" stroke-width="0.1"><tspan x="81.60" y="438.94" font-size="16.11" textLength="10.23" lengthAdjust="spacingAndGlyphs">−</tspan><tspan x="92.22" y="438.00" font-size="14.17" textLength="7.57" lengthAdjust="spacingAndGlyphs">1</tspan><tspan x="101.13" font-size="13.96" textLength="7.46" lengthAdjust="spacingAndGlyphs">2</tspan></text>
<text y="438" font-size="13.889" stroke="#000" stroke-width="0.1"><tspan x="163.51" y="438.94" font-size="16.11" textLength="10.43" lengthAdjust="spacingAndGlyphs">−</tspan><tspan x="174.21" y="438.00" font-size="14.17" textLength="7.73" lengthAdjust="spacingAndGlyphs">1</tspan><tspan x="182.99" font-size="13.96" textLength="7.96" lengthAdjust="spacingAndGlyphs">0</tspan></text>
<text y="438" font-size="13.889" stroke="#000" stroke-width="0.1"><tspan x="250.69" y="438.94" font-size="16.11" textLength="10.17" lengthAdjust="spacingAndGlyphs">−</tspan><tspan x="261.11" y="438.00" font-size="13.96" textLength="7.91" lengthAdjust="spacingAndGlyphs">8</tspan></text>
<text y="438" font-size="13.889" stroke="#000" stroke-width="0.1"><tspan x="332.69" y="438.94" font-size="16.11" textLength="10.17" lengthAdjust="spacingAndGlyphs">−</tspan><tspan x="342.95" y="438.00" font-size="13.96" textLength="8.04" lengthAdjust="spacingAndGlyphs">6</tspan></text>
<text y="438" font-size="13.889" stroke="#000" stroke-width="0.1"><tspan x="414.57" y="438.94" font-size="16.11" textLength="10.10" lengthAdjust="spacingAndGlyphs">−</tspan><tspan x="425.10" y="438.00" font-size="14.17" textLength="7.84" lengthAdjust="spacingAndGlyphs">4</tspan></text>
<text y="438" font-size="13.889" stroke="#000" stroke-width="0.1"><tspan x="496.78" y="438.94" font-size="16.11" textLength="9.93" lengthAdjust="spacingAndGlyphs">−</tspan><tspan x="507.40" y="438.00" font-size="13.96" textLength="7.24" lengthAdjust="spacingAndGlyphs">2</tspan></text>
<text y="59" font-size="13.889" stroke="#000" stroke-width="0.1"><tspan x="30.52" y="59.94" font-size="16.11" textLength="10.30" lengthAdjust="spacingAndGlyphs">−</tspan><tspan x="41.15" y="59.00" font-size="13.96" textLength="7.86" lengthAdjust="spacingAndGlyphs">0</tspan><tspan x="49.69" font-size="16.37" textLength="3.87" lengthAdjust="spacingAndGlyphs">.</tspan><tspan x="54.16" font-size="14.17" textLength="7.99" lengthAdjust="spacingAndGlyphs">4</tspan></text>
<text y="103" font-size="13.889" stroke="#000" stroke-width="0.1"><tspan x="30.46" y="103.94" font-size="16.11" textLength="10.34" lengthAdjust="spacingAndGlyphs">−</tspan><tspan x="41.03" y="103.00" font-size="13.96" textLength="7.89" lengthAdjust="spacingAndGlyphs">0</tspan><tspan x="49.59" font-size="16.37" textLength="3.89" lengthAdjust="spacingAndGlyphs">.</tspan><tspan x="54.06" font-size="13.96" textLength="8.17" lengthAdjust="spacingAndGlyphs">6</tspan></text>
<text y="147" font-size="13.889" stroke="#000" stroke-width="0.1"><tspan x="30.46" y="147.94" font-size="16.11" textLength="10.34" lengthAdjust="spacingAndGlyphs">−</tspan><tspan x="41.03" y="147.00" font-size="13.96" textLength="7.89" lengthAdjust="spacingAndGlyphs">0</tspan><tspan x="49.59" font-size="16.37" textLength="3.89" lengthAdjust="spacingAndGlyphs">.</tspan><tspan x="54.18" font-size="13.96" textLength="8.04" lengthAdjust="spacingAndGlyphs">8</tspan></text>
<text y="191" font-size="13.889" stroke="#000" stroke-width="0.1"><tspan x="30.46" y="191.94" font-size="16.11" textLength="10.34" lengthAdjust="spacingAndGlyphs">−</tspan><tspan x="41.19" y="191.00" font-size="14.17" textLength="7.66" lengthAdjust="spacingAndGlyphs">1</tspan><tspan x="49.86" font-size="16.37" textLength="3.89" lengthAdjust="spacingAndGlyphs">.</tspan><tspan x="54.27" font-size="13.96" textLength="7.89" lengthAdjust="spacingAndGlyphs">0</tspan></text>
<text y="235" font-size="13.889" stroke="#000" stroke-width="0.1"><tspan x="30.42" y="235.94" font-size="16.11" textLength="10.50" lengthAdjust="spacingAndGlyphs">−</tspan><tspan x="41.05" y="235.00" font-size="14.17" textLength="7.78" lengthAdjust="spacingAndGlyphs">1</tspan><tspan x="50.00" font-size="16.37" textLength="3.95" lengthAdjust="spacingAndGlyphs">.</tspan><tspan x="54.42" font-size="13.96" textLength="7.66" lengthAdjust="spacingAndGlyphs">2</tspan></text>
<text y="279" font-size="13.889" stroke="#000" stroke-width="0.1"><tspan x="30.59" y="279.94" font-size="16.11" textLength="10.25" lengthAdjust="spacingAndGlyphs">−</tspan><tspan x="41.21" y="279.00" font-size="14.17" textLength="7.59" lengthAdjust="spacingAndGlyphs">1</tspan><tspan x="49.75" font-size="16.37" textLength="3.86" lengthAdjust="spacingAndGlyphs">.</tspan><tspan x="54.33" font-size="14.17" textLength="7.96" lengthAdjust="spacingAndGlyphs">4</tspan></text>
<text y="323" font-size="13.889" stroke="#000" stroke-width="0.1"><tspan x="30.52" y="323.94" font-size="16.11" textLength="10.30" lengthAdjust="spacingAndGlyphs">−</tspan><tspan x="41.21" y="323.00" font-size="14.17" textLength="7.62" lengthAdjust="spacingAndGlyphs">1</tspan><tspan x="49.80" font-size="16.37" textLength="3.87" lengthAdjust="spacingAndGlyphs">.</tspan><tspan x="54.23" font-size="13.96" textLength="8.14" lengthAdjust="spacingAndGlyphs">6</tspan></text>
<text y="367" font-size="13.889" stroke="#000" stroke-width="0.1"><tspan x="30.52" y="367.94" font-size="16.11" textLength="10.30" lengthAdjust="spacingAndGlyphs">−</tspan><tspan x="41.21" y="367.00" font-size="14.17" textLength="7.62" lengthAdjust="spacingAndGlyphs">1</tspan><tspan x="49.80" font-size="16.37" textLength="3.87" lengthAdjust="spacingAndGlyphs">.</tspan><tspan x="54.35" font-size="13.96" textLength="8.01" lengthAdjust="spacingAndGlyphs">8</tspan></text>
<text y="411" font-size="13.889" stroke="#000" stroke-width="0.1"><tspan x="30.83" y="411.94" font-size="16.11" textLength="10.38" lengthAdjust="spacingAndGlyphs">−</tspan><tspan x="41.14" y="411.00" font-size="13.96" textLength="7.57" lengthAdjust="spacingAndGlyphs">2</tspan><tspan x="49.65" font-size="16.37" textLength="3.90" lengthAdjust="spacingAndGlyphs">.</tspan><tspan x="54.08" font-size="13.96" textLength="7.92" lengthAdjust="spacingAndGlyphs">0</tspan></text>
</g>
</svg>
</body></html>
